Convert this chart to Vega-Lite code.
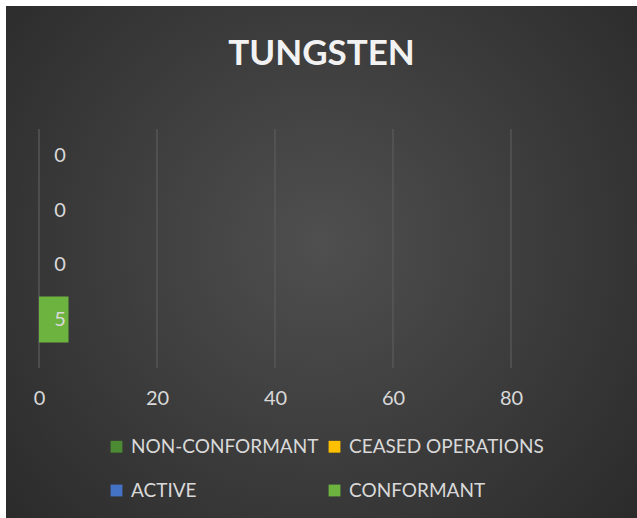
{
  "$schema": "https://vega.github.io/schema/vega-lite/v6.json",
  "width": 631,
  "height": 512,
  "autosize": {"type": "none"},
  "padding": {"left": 6, "top": 6, "right": 0, "bottom": 0},
  "background": "#ffffff",
  "config": {
    "font": "Lato",
    "view": {
      "stroke": null,
      "fill": {
        "gradient": "radial",
        "x1": 0.5, "y1": 0.47, "r1": 0,
        "x2": 0.5, "y2": 0.47, "r2": 0.75,
        "stops": [
          {"offset": 0, "color": "#4f4f4f"},
          {"offset": 1, "color": "#262626"}
        ]
      }
    }
  },
  "title": {
    "text": "TUNGSTEN",
    "font": "Lato",
    "fontSize": 35,
    "fontWeight": "bold",
    "color": "#f2f2f2",
    "anchor": "middle",
    "frame": "group",
    "baseline": "alphabetic",
    "offset": -94
  },
  "data": {
    "values": [
      {"status": "NON-CONFORMANT", "count": 0},
      {"status": "CEASED OPERATIONS", "count": 0},
      {"status": "ACTIVE", "count": 0},
      {"status": "CONFORMANT", "count": 5}
    ]
  },
  "layer": [
    {
      "data": {"values": [{"tick": 0}, {"tick": 20}, {"tick": 40}, {"tick": 60}, {"tick": 80}]},
      "mark": {"type": "rule", "color": "#5a5a5a", "strokeWidth": 1.3},
      "encoding": {
        "x": {
          "field": "tick",
          "type": "quantitative",
          "scale": {"domain": [-5.593, 101.36], "nice": false, "zero": false},
          "axis": {
            "values": [0, 20, 40, 60, 80],
            "title": null,
            "grid": false,
            "domain": false,
            "ticks": false,
            "labelPadding": 0,
            "offset": -130,
            "labelFont": "Lato",
            "labelFontSize": 20,
            "labelColor": "#d9d9d9"
          }
        },
        "y": {"datum": "NON-CONFORMANT", "type": "nominal", "bandPosition": -0.087, "axis": null},
        "y2": {"datum": "CONFORMANT", "bandPosition": 1.554}
      }
    },
    {
      "mark": {"type": "bar"},
      "encoding": {
        "x": {
          "field": "count",
          "type": "quantitative",
          "scale": {"domain": [-5.593, 101.36], "nice": false, "zero": false},
          "axis": {
            "values": [0, 20, 40, 60, 80],
            "title": null,
            "grid": false,
            "domain": false,
            "ticks": false,
            "labelPadding": 0,
            "offset": -130,
            "labelFont": "Lato",
            "labelFontSize": 20,
            "labelColor": "#d9d9d9"
          }
        },
        "y": {
          "field": "status",
          "type": "nominal",
          "scale": {
            "domain": ["NON-CONFORMANT", "CEASED OPERATIONS", "ACTIVE", "CONFORMANT"],
            "range": [123, 362],
            "paddingInner": 0.156,
            "paddingOuter": 0.27,
            "align": 0.136
          },
          "axis": null
        },
        "color": {
          "field": "status",
          "type": "nominal",
          "scale": {
            "domain": ["NON-CONFORMANT", "CEASED OPERATIONS", "ACTIVE", "CONFORMANT"],
            "range": ["#4c8a34", "#ffc000", "#4472c4", "#6db33f"]
          },
          "legend": {
            "orient": "none",
            "legendX": 101,
            "legendY": 431,
            "columns": 2,
            "direction": "horizontal",
            "title": null,
            "padding": 0,
            "symbolType": "square",
            "symbolSize": 140,
            "symbolStrokeWidth": 0,
            "labelFont": "Lato",
            "labelFontSize": 19,
            "labelColor": "#d9d9d9",
            "labelOffset": 5,
            "labelLimit": 0,
            "columnPadding": 6,
            "rowPadding": 24
          }
        }
      }
    },
    {
      "mark": {"type": "text", "dx": 21, "align": "center", "baseline": "middle", "font": "Lato", "fontSize": 20, "color": "#d9d9d9"},
      "encoding": {
        "x": {
          "datum": 0,
          "type": "quantitative",
          "axis": {
            "values": [0, 20, 40, 60, 80],
            "title": null,
            "grid": false,
            "domain": false,
            "ticks": false,
            "labelPadding": 0,
            "offset": -130,
            "labelFont": "Lato",
            "labelFontSize": 20,
            "labelColor": "#d9d9d9"
          }
        },
        "y": {"field": "status", "type": "nominal", "axis": null},
        "text": {"field": "count", "type": "quantitative"}
      }
    }
  ]
}
